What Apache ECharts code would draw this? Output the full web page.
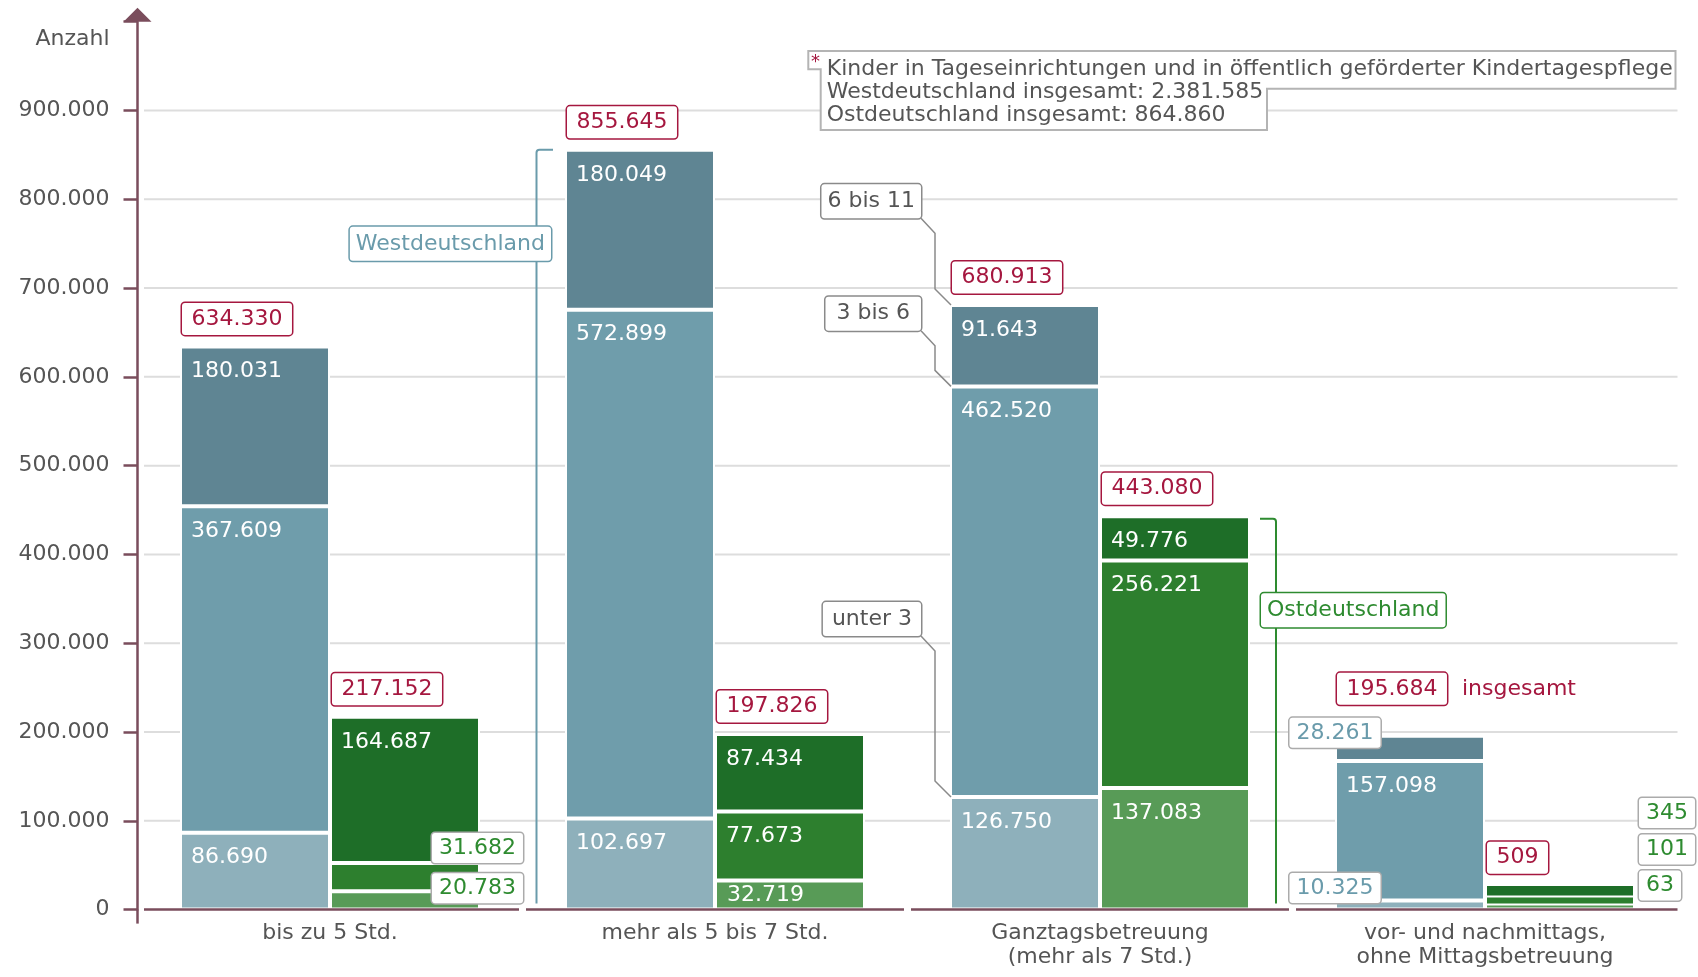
<!DOCTYPE html>
<html>
<head>
<meta charset="utf-8">
<script src="https://cdn.jsdelivr.net/npm/echarts@6/dist/echarts.min.js"></script>
<style>html,body{margin:0;padding:0;background:#fff}#c{width:1698px;height:977px}</style>
</head>
<body>
<div id="c"></div>
<script>
// ---------- data ----------
const categories = ['bis zu 5 Std.', 'mehr als 5 bis 7 Std.', 'Ganztagsbetreuung\n(mehr als 7 Std.)', 'vor- und nachmittags,\nohne Mittagsbetreuung'];
const westUnter3 = [86690, 102697, 126750, 10325];
const west3bis6  = [367609, 572899, 462520, 157098];
const west6bis11 = [180031, 180049, 91643, 28261];
const westTotal  = [634330, 855645, 680913, 195684];
const eastUnter3 = [20783, 32719, 137083, 63];
const east3bis6  = [31682, 77673, 256221, 101];
const east6bis11 = [164687, 87434, 49776, 345];
const eastTotal  = [217152, 197826, 443080, 509];
const yTicks = [0, 100000, 200000, 300000, 400000, 500000, 600000, 700000, 800000, 900000];
const ageGroups = ['unter 3', '3 bis 6', '6 bis 11'];
const regionNames = ['Westdeutschland', 'Ostdeutschland'];
const totalWord = 'insgesamt';
const footnoteLines = [
  'Kinder in Tageseinrichtungen und in öffentlich geförderter Kindertagespflege',
  'Westdeutschland insgesamt: 2.381.585',
  'Ostdeutschland insgesamt: 864.860'
];

// ---------- style ----------
const FONT = 'DejaVu Sans';
const C = {
  w3: '#8eb0bb', w36: '#6f9dab', w611: '#5f8593',
  e3: '#589b57', e36: '#2d7f2e', e611: '#1e6e28',
  red: '#a5173f', axis: '#7a4d5c', grid: '#dddddd', text: '#555555',
  teal: '#6a9bab', green: '#2e8b30', boxGray: '#ababab', callGray: '#8a8a8a'
};
const fmt = n => String(n).replace(/\B(?=(\d{3})+(?!\d))/g, '.');
const BARW = 150;
const BW = 2;

const insideLabel = {
  show: true, position: 'insideTopLeft', distance: 11, offset: [0, 3],
  color: '#fff', fontSize: 22, fontFamily: FONT,
  formatter: p => fmt(p.value)
};
function boxLabel(color, dx, dy) {
  return { position: [dx, dy], offset: [0, 0], align: 'left', verticalAlign: 'top', color: color,
    backgroundColor: '#fff', borderColor: C.boxGray, borderWidth: 1.5, borderRadius: 3,
    padding: [4, 7], lineHeight: 22 };
}
const labelTweaks = {
  westUnter3: { 3: boxLabel(C.teal, -45.5, -27.4) },
  west6bis11: { 3: boxLabel(C.teal, -45.5, -18) },
  eastUnter3: { 0: boxLabel(C.green, 102, -18), 1: { position: 'insideLeft', distance: 12, offset: [0, 0] }, 3: boxLabel(C.green, 154, -33) },
  east3bis6:  { 0: boxLabel(C.green, 102, -30), 3: boxLabel(C.green, 154, -61) },
  east6bis11: { 3: boxLabel(C.green, 154, -86) }
};

function mkData(key, arr) {
  const tw = labelTweaks[key] || {};
  return arr.map((v, i) => tw[i] ? { value: v, label: tw[i] } : v);
}
function bar(name, key, arr, stack, color, z, minH) {
  return {
    name: name, type: 'bar', stack: stack, data: mkData(key, arr),
    barWidth: BARW, barGap: '0%', z: z, barMinHeight: minH || 0,
    itemStyle: { color: color, borderColor: '#fff', borderWidth: BW },
    label: insideLabel, emphasis: { disabled: true }
  };
}
const totalRich = {
  b: { color: C.red, fontSize: 22, fontFamily: FONT, lineHeight: 22, backgroundColor: '#fff',
       borderColor: C.red, borderWidth: 1.5, borderRadius: 3, padding: [5, 9.5] },
  n: { color: C.red, fontSize: 22, fontFamily: FONT, lineHeight: 22, padding: [0, 0, 0, 15] }
};
function totalSeries(stack, totals, tweak) {
  return {
    name: stack + ' total', type: 'bar', stack: stack, barWidth: BARW, barGap: '0%', z: 6,
    data: totals.map((t, i) => tweak[i] ? { value: 0, label: { position: tweak[i] } } : 0),
    itemStyle: { color: 'rgba(0,0,0,0)', borderWidth: 0 },
    label: {
      show: true, position: [2, -16.5], align: 'left', verticalAlign: 'bottom',
      formatter: p => '{b|' + fmt(totals[p.dataIndex]) + '}' + (stack === 'W' && p.dataIndex === 3 ? '{n|' + totalWord + '}' : ''),
      rich: totalRich
    },
    emphasis: { disabled: true }
  };
}

// cumulative stack tops (built from the arrays)
const wTop36 = westUnter3.map((v, i) => v + west3bis6[i]);
const wTop = wTop36.map((v, i) => v + west6bis11[i]);
const eTop = eastUnter3.map((v, i) => v + east3bis6[i] + east6bis11[i]);

const textFont = '22px ' + FONT;
function boxText(txt, x, y, align, vAlign, color, border, pad) {
  return { type: 'text', z2: 20, style: { text: txt, x: x, y: y, align: align, verticalAlign: vAlign,
    fill: color, font: textFont, backgroundColor: '#fff', borderColor: border, borderWidth: 1.5,
    borderRadius: 3, padding: pad } };
}

const chart = echarts.init(document.getElementById('c'), null, { renderer: 'canvas' });
chart.setOption({
  animation: false,
  backgroundColor: '#fff',
  textStyle: { fontFamily: FONT },
  grid: { left: 137.5, right: 20.5, top: 21.7, bottom: 67.4, containLabel: false },
  xAxis: {
    type: 'category', data: categories,
    axisLine: { show: false }, axisTick: { show: false }, splitLine: { show: false },
    axisLabel: { interval: 0, margin: 12, fontSize: 22, lineHeight: 24, color: C.text, fontFamily: FONT }
  },
  yAxis: {
    type: 'value', min: 0, max: 1000000, interval: 100000,
    name: 'Anzahl', nameLocation: 'end', nameGap: -18,
    nameTextStyle: { fontSize: 22, color: C.text, fontFamily: FONT, align: 'right', verticalAlign: 'middle', padding: [0, 28, 0, 0] },
    axisLine: { show: true, symbol: ['none', 'triangle'], symbolSize: [28, 14], symbolOffset: [0, 7],
      lineStyle: { color: C.axis, width: 2.5 } },
    axisTick: { show: true, length: 14, lineStyle: { color: C.axis, width: 2.5 } },
    axisLabel: { margin: 28, fontSize: 22, color: C.text, fontFamily: FONT,
      formatter: v => yTicks.indexOf(v) >= 0 ? fmt(v) : '' },
    splitLine: { show: false }
  },
  series: [
    // gridlines
    { type: 'custom', z: 1, silent: true, data: yTicks.slice(1).map(v => [0, v]),
      renderItem: (params, api) => {
        const cs = params.coordSys;
        const y = api.coord([0, api.value(1)])[1];
        return { type: 'line', shape: { x1: cs.x + 6.5, y1: y, x2: cs.x + cs.width, y2: y },
          style: { stroke: C.grid, lineWidth: 2 } };
      } },
    bar(ageGroups[0], 'westUnter3', westUnter3, 'W', C.w3, 2),
    bar(ageGroups[1], 'west3bis6', west3bis6, 'W', C.w36, 2),
    bar(ageGroups[2], 'west6bis11', west6bis11, 'W', C.w611, 2),
    totalSeries('W', westTotal, { 3: [2, -36] }),
    bar(ageGroups[0], 'eastUnter3', eastUnter3, 'E', C.e3, 4, 6),
    bar(ageGroups[1], 'east3bis6', east3bis6, 'E', C.e36, 3, 14),
    bar(ageGroups[2], 'east6bis11', east6bis11, 'E', C.e611, 2, 25.5),
    totalSeries('E', eastTotal, { 3: [2, -40.5] }),
    // x baseline segments + y axis extension
    { type: 'custom', z: 7, silent: true, data: categories.map((c, i) => [i, 0]),
      renderItem: (params, api) => {
        const cs = params.coordSys;
        const i = api.value(0);
        const p = api.coord([i, 0]);
        const bw = api.size([1, 0])[0];
        const x1 = i === 0 ? cs.x + 6.5 : p[0] - bw / 2 + 3.5;
        const x2 = i === categories.length - 1 ? cs.x + cs.width : p[0] + bw / 2 - 3.5;
        const children = [{ type: 'line', shape: { x1: x1, y1: p[1], x2: x2, y2: p[1] },
          style: { stroke: C.axis, lineWidth: 2.5 } }];
        if (i === 0) children.push({ type: 'line', shape: { x1: cs.x, y1: p[1], x2: cs.x, y2: p[1] + 14 },
          style: { stroke: C.axis, lineWidth: 2.5 } });
        return { type: 'group', children: children };
      } },
    // annotations: brackets + callouts
    { type: 'custom', z: 9, silent: true, data: [[0, 0]],
      renderItem: (params, api) => {
        const y0 = api.coord([0, 0])[1];
        const ch = [];
        // West bracket (category 1)
        const pw = api.coord([1, wTop[1]]);
        const bl = pw[0] - BARW + BW / 2;
        const vx = bl - 29.5;
        ch.push({ type: 'path', shape: { pathData: 'M' + (bl - 13) + ' ' + pw[1] + ' L' + (vx + 3) + ' ' + pw[1] +
          ' Q' + vx + ' ' + pw[1] + ' ' + vx + ' ' + (pw[1] + 3) + ' L' + vx + ' ' + (y0 - 6) },
          style: { stroke: C.teal, lineWidth: 2, fill: null } });
        ch.push(boxText(regionNames[0], bl - 15, pw[1] + 94, 'right', 'middle', C.teal, C.teal, [6, 6]));
        // East bracket (category 2)
        const pe = api.coord([2, eTop[2]]);
        const er = pe[0] + BARW - BW / 2;
        const ex = er + 27;
        const ty = pe[1] + 2.5;
        ch.push({ type: 'path', shape: { pathData: 'M' + (er + 11) + ' ' + ty + ' L' + (ex - 3) + ' ' + ty +
          ' Q' + ex + ' ' + ty + ' ' + ex + ' ' + (ty + 3) + ' L' + ex + ' ' + (y0 - 6) },
          style: { stroke: C.green, lineWidth: 2, fill: null } });
        ch.push(boxText(regionNames[1], er + 12, pe[1] + 94, 'left', 'middle', C.green, C.green, [6, 6]));
        // callouts for age groups (category 2, West)
        const tops = [westUnter3[2], wTop36[2], wTop[2]];
        const boxDy = [-161, -55.7, -86.7];
        const pads = [[6, 9], [6, 11], [6, 6]];
        for (let k = 0; k < 3; k++) {
          const p = api.coord([2, tops[k]]);
          const bx = p[0] - BARW + BW / 2, by = p[1];
          const bb = by + boxDy[k];
          ch.push({ type: 'polyline', shape: { points: [[bx - 30, bb], [bx - 16, bb + 15], [bx - 16, by - 16], [bx, by]] },
            style: { stroke: C.callGray, lineWidth: 1.5, fill: null } });
          ch.push(boxText(ageGroups[k], bx - 30, bb, 'right', 'bottom', C.text, C.callGray, pads[k]));
        }
        return { type: 'group', children: ch };
      } }
  ],
  graphic: [
    { type: 'polygon', z: 20, silent: true,
      shape: { points: [[808.3, 51], [1675.5, 51], [1675.5, 88.7], [1267, 88.7], [1267, 130], [820.7, 130], [820.7, 69.3], [808.3, 69.3]] },
      style: { fill: '#fff', stroke: '#b4b4b4', lineWidth: 2 } },
    { type: 'text', z: 21, silent: true, x: 811, y: 53,
      style: { text: '*', fill: C.red, font: '18px ' + FONT, verticalAlign: 'top' } },
    { type: 'text', z: 21, silent: true, x: 826.7, y: 57.6,
      style: { text: footnoteLines.join('\n'), fill: C.text, font: textFont, lineHeight: 23, verticalAlign: 'top' } }
  ]
});
</script>
</body>
</html>
